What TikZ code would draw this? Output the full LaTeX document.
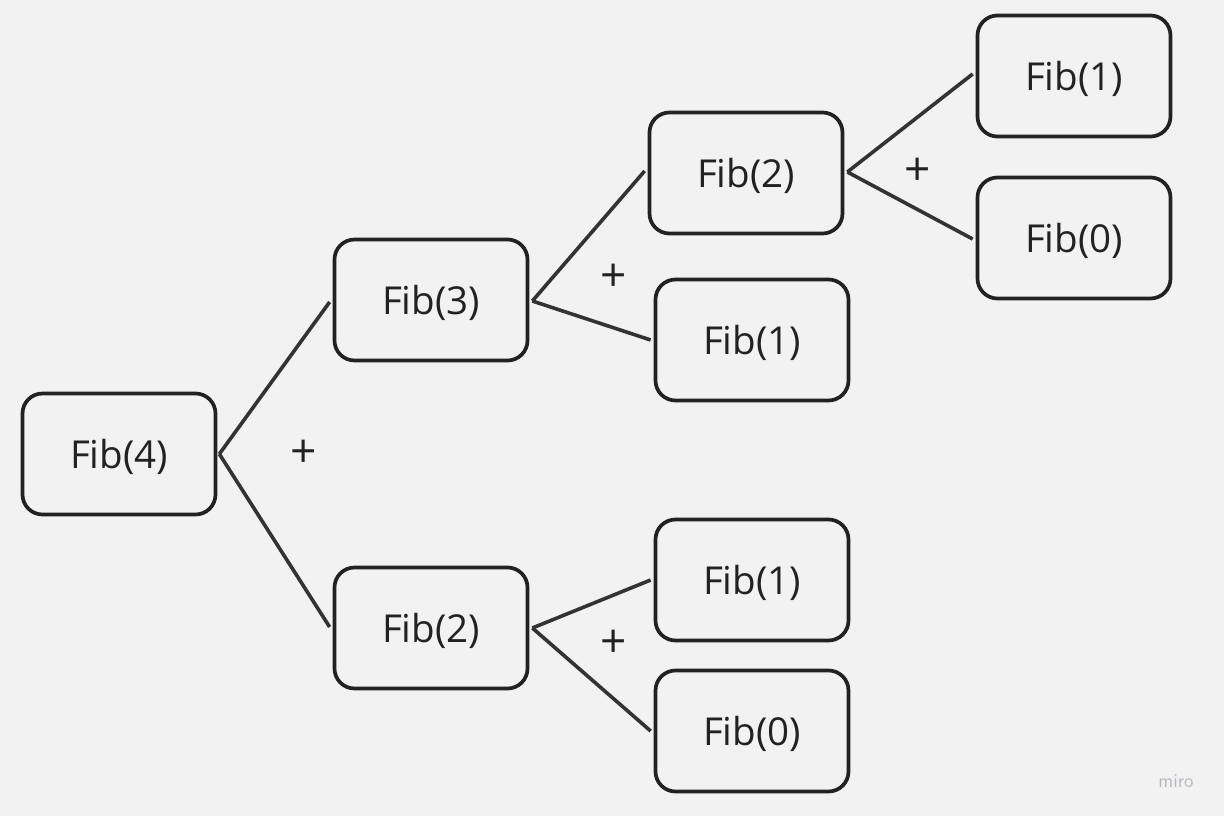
\documentclass[tikz,border=0pt]{standalone}
\usepackage{fontspec}
\setmainfont{Open Sans}
\definecolor{bg}{HTML}{F2F2F2}
\definecolor{edge}{HTML}{222222}
\definecolor{conn}{HTML}{333333}
\definecolor{logo}{HTML}{B8B8C4}
\begin{document}
\begin{tikzpicture}[x=1pt,y=-1pt,
  fib/.style={draw=edge, line width=3.7pt, fill=bg, rounded corners=20pt,
    minimum width=193pt, minimum height=121pt, inner sep=0pt,
    text height=29pt, text depth=0pt,
    font=\fontsize{38.5}{44}\selectfont, text=edge},
  conn/.style={draw=conn, line width=3.6pt},
  plus/.style={font=\fontsize{46}{50}\selectfont, text=edge, inner sep=0pt}]
\useasboundingbox[fill=bg] (0,0) rectangle (1224,816);
\node[fib] (f4)  at (119,454) {Fib(4)};
\node[fib] (f3)  at (431,300) {Fib(3)};
\node[fib] (f2b) at (431,628) {Fib(2)};
\node[fib] (f2a) at (746,173) {Fib(2)};
\node[fib] (f1a) at (752,340) {Fib(1)};
\node[fib] (f1b) at (752,580) {Fib(1)};
\node[fib] (f0b) at (752,731) {Fib(0)};
\node[fib] (f1t) at (1074,76) {Fib(1)};
\node[fib] (f0t) at (1074,238) {Fib(0)};
\draw[conn] ([xshift=2pt]f4.east) -- ([xshift=-3pt,yshift=-2pt]f3.west);
\draw[conn] ([xshift=2pt]f4.east) -- ([xshift=-3pt,yshift=1pt]f2b.west);
\draw[conn] ([xshift=3pt,yshift=-1pt]f3.east) -- ([xshift=-3pt,yshift=2pt]f2a.west);
\draw[conn] ([xshift=3pt,yshift=-1pt]f3.east) -- ([xshift=-3pt]f1a.west);
\draw[conn] ([xshift=3pt,yshift=1pt]f2a.east) -- ([xshift=-3pt,yshift=2pt]f1t.west);
\draw[conn] ([xshift=3pt,yshift=1pt]f2a.east) -- ([xshift=-3pt,yshift=-1pt]f0t.west);
\draw[conn] ([xshift=3pt]f2b.east) -- ([xshift=-3pt]f1b.west);
\draw[conn] ([xshift=3pt]f2b.east) -- ([xshift=-3pt]f0b.west);
\node[plus] (p1) at (304,454) {+};
\node[plus] (p2) at (614,278) {+};
\node[plus] (p3) at (918,172) {+};
\node[plus] (p4) at (614,644) {+};
\node[text=logo, font=\fontsize{20}{24}\selectfont\sffamily, inner sep=0pt] (miro) at (1176,781) {miro};
\end{tikzpicture}
\end{document}
